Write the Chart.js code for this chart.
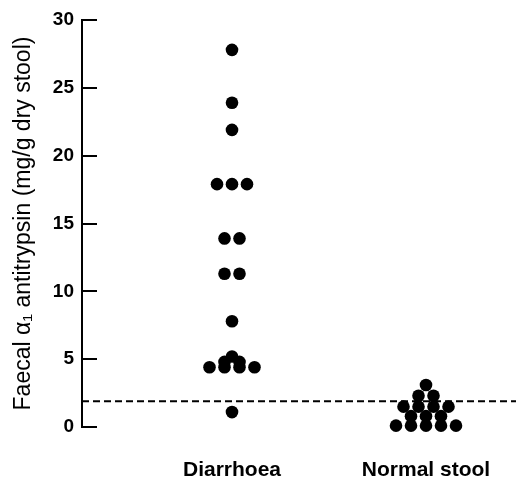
<!DOCTYPE html>
<html>
<head>
<meta charset="utf-8">
<script src="https://cdn.jsdelivr.net/npm/chart.js@4/dist/chart.umd.min.js"></script>
<style>
  html, body { margin: 0; padding: 0; background: #fff; }
  #wrap { width: 516px; height: 481px; }
</style>
</head>
<body>
<div id="wrap"><canvas id="dotChart"></canvas></div>
<script>
// groups on the x axis
var categories = ["Diarrhoea", "Normal stool"];
// faecal alpha1 antitrypsin, mg/g dry stool
var diarrhoeaValues = [27.8, 23.9, 21.9, 17.9, 17.9, 17.9, 13.9, 13.9, 11.3, 11.3, 7.8, 5.2, 4.8, 4.8, 4.4, 4.4, 4.4, 4.4, 1.1];
var normalValues = [3.1, 2.3, 2.3, 1.5, 1.5, 1.5, 1.5, 0.8, 0.8, 0.8, 0.1, 0.1, 0.1, 0.1, 0.1];
var cutoff = 1.9;
var yTicks = [0, 5, 10, 15, 20, 25, 30];

var xMin = 0.2268, xMax = 2.4639;
var spread = 0.0773; // side step between equal dots

// lay equal values side by side around the group centre
function swarm(values, centre) {
  var counts = {}, seen = {};
  values.forEach(function(v){ counts[v] = (counts[v] || 0) + 1; });
  return values.map(function(v){
    var i = seen[v] || 0;
    seen[v] = i + 1;
    return { x: centre + (i - (counts[v] - 1) / 2) * spread, y: v };
  });
}

var innerTicks = {
  id: 'innerTicks',
  afterDatasetsDraw: function(chart) {
    var y = chart.scales.y, left = chart.chartArea.left, ctx = chart.ctx;
    ctx.save();
    ctx.strokeStyle = '#000';
    ctx.lineWidth = 2;
    yTicks.forEach(function(t){
      var py = Math.round(y.getPixelForValue(t));
      ctx.beginPath();
      ctx.moveTo(left, py);
      ctx.lineTo(left + 15, py);
      ctx.stroke();
    });
    ctx.restore();
  }
};

var ctx = document.getElementById("dotChart");
new Chart(ctx, {
  type: 'scatter',
  data: {
    datasets: [{
        data: swarm(diarrhoeaValues, 1),
        backgroundColor: '#000',
        borderWidth: 0,
        pointRadius: 6.3,
        clip: false
      }, {
        data: swarm(normalValues, 2),
        backgroundColor: '#000',
        borderWidth: 0,
        pointRadius: 6.3,
        clip: false
      }, {
        type: 'line',
        data: [{ x: xMin, y: cutoff }, { x: xMax, y: cutoff }],
        borderColor: '#000',
        borderWidth: 2,
        borderDash: [7, 4],
        pointRadius: 0,
        fill: false,
        clip: false
      }
    ]
  },
  options: {
    responsive: true,
    maintainAspectRatio: false,
    animation: false,
    events: [],
    layout: { autoPadding: false, padding: { top: 20, right: 0, bottom: 0, left: 0 } },
    plugins: { legend: { display: false }, tooltip: { enabled: false } },
    scales: {
      x: {
        type: 'linear',
        min: xMin,
        max: xMax,
        grid: { display: false, drawTicks: true, tickLength: 29 },
        border: { display: false },
        afterBuildTicks: function(scale) {
          scale.ticks = [{ value: 1 }, { value: 2 }];
        },
        afterFit: function(scale) { scale.height = 54; },
        ticks: {
          autoSkip: false,
          maxRotation: 0,
          padding: 2,
          color: '#000',
          font: { family: 'Liberation Sans, Arial, sans-serif', size: 21, weight: 'bold' },
          callback: function(v) { return categories[Math.round(v) - 1]; }
        }
      },
      y: {
        min: 0,
        max: 30,
        afterBuildTicks: function(scale) {
          scale.ticks = yTicks.map(function(v){ return { value: v }; });
        },
        afterFit: function(scale) { scale.width = 82; },
        grid: { display: false, drawTicks: false },
        border: { display: true, color: '#000', width: 2 },
        ticks: {
          padding: 8,
          color: '#000',
          font: { family: 'Liberation Sans, Arial, sans-serif', size: 19, weight: 'bold' }
        },
        title: {
          display: true,
          text: 'Faecal \u03b1\u2081 antitrypsin (mg/g dry stool)',
          color: '#000',
          padding: { top: 10, bottom: 0 },
          font: { family: 'Liberation Sans, Arial, sans-serif', size: 23 }
        }
      }
    }
  },
  plugins: [innerTicks]
});
</script>
</body>
</html>
